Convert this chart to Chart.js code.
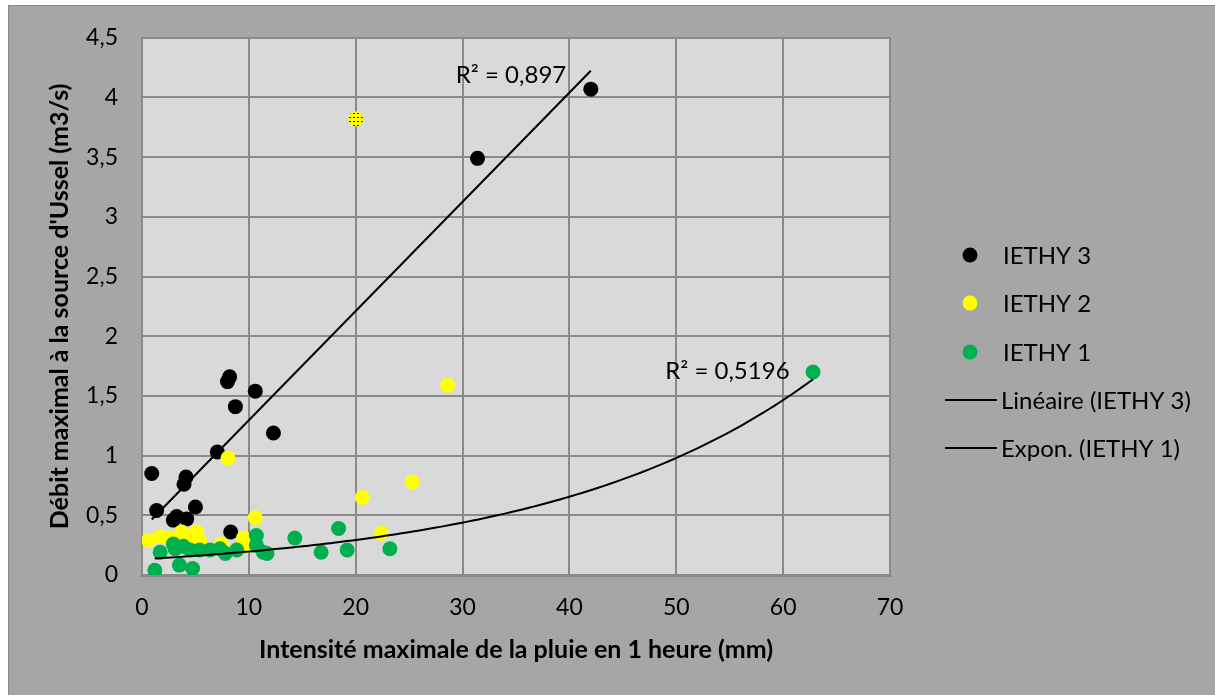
<!DOCTYPE html>
<html>
<head>
<meta charset="utf-8">
<script src="https://cdn.jsdelivr.net/npm/chart.js@4.4.1/dist/chart.umd.min.js"></script>
<style>
html,body{margin:0;padding:0;background:#fff;}
canvas{display:block;}
</style>
</head>
<body>
<canvas id="c" width="1215" height="695"></canvas>
<script>
// ---- Data ----
const ieth3X = [0.91, 1.37, 2.93, 3.25, 4.18, 3.93, 4.12, 5.0, 7.05, 8.0, 8.2, 8.74, 8.3, 10.6, 12.3, 31.4, 42.0];
const ieth3Y = [0.85, 0.54, 0.46, 0.49, 0.47, 0.76, 0.82, 0.57, 1.03, 1.62, 1.66, 1.41, 0.36, 1.54, 1.19, 3.49, 4.07];

const ieth2X = [0.6, 1.7, 2.5, 3.7, 4.3, 5.1, 5.4, 7.45, 8.05, 9.5, 9.8, 10.6, 20.0, 20.6, 22.4, 25.3, 28.6];
const ieth2Y = [0.29, 0.32, 0.31, 0.36, 0.30, 0.36, 0.29, 0.26, 0.98, 0.31, 0.25, 0.48, 3.82, 0.65, 0.35, 0.78, 1.59];
const ieth2Hatched = [20.0]; // x of the patterned point

const ieth1X = [1.2, 3.5, 4.74, 1.7, 2.93, 3.1, 3.87, 4.5, 5.4, 6.37, 7.3, 7.8, 8.87, 10.7, 10.7, 11.35, 11.7, 14.3, 16.76, 18.4, 19.2, 23.2, 62.8];
const ieth1Y = [0.04, 0.083, 0.055, 0.19, 0.26, 0.22, 0.24, 0.21, 0.21, 0.21, 0.22, 0.18, 0.21, 0.33, 0.25, 0.19, 0.18, 0.31, 0.19, 0.39, 0.21, 0.22, 1.70];

const xTicks = [0, 10, 20, 30, 40, 50, 60, 70];
const yTicks = [0, 0.5, 1, 1.5, 2, 2.5, 3, 3.5, 4, 4.5];

const seriesNames = ['IETHY 3', 'IETHY 2', 'IETHY 1', 'Linéaire (IETHY 3)', 'Expon. (IETHY 1)'];
const seriesColors = ['#000000', '#ffff00', '#00b050'];
const r2Labels = ['R² = 0,897', 'R² = 0,5196'];
const xTitle = 'Intensité maximale de la pluie en 1 heure (mm)';
const yTitle = "Débit maximal à la source d'Ussel (m3/s)";

// ---- Trend fits computed from the data (least squares, as in the spreadsheet) ----
function linFit(xs, ys) {
  const n = xs.length;
  const mx = xs.reduce((a, b) => a + b, 0) / n;
  const my = ys.reduce((a, b) => a + b, 0) / n;
  let sxy = 0, sxx = 0;
  for (let i = 0; i < n; i++) { sxy += (xs[i] - mx) * (ys[i] - my); sxx += (xs[i] - mx) ** 2; }
  const b = sxy / sxx;
  return { b, a: my - b * mx };
}
const lin = linFit(ieth3X, ieth3Y);
const expLin = linFit(ieth1X, ieth1Y.map(v => Math.log(v)));
const expA = Math.exp(expLin.a), expB = expLin.b;

const x3min = Math.min(...ieth3X), x3max = Math.max(...ieth3X);
const linPts = [x3min, x3max].map(x => ({ x, y: lin.a + lin.b * x }));

const x1min = Math.min(...ieth1X), x1max = Math.max(...ieth1X);
const expPts = [];
for (let i = 0; i <= 120; i++) {
  const x = x1min + (x1max - x1min) * i / 120;
  expPts.push({ x, y: expA * Math.exp(expB * x) });
}

const zip = (xs, ys) => xs.map((x, i) => ({ x, y: ys[i] }));

// hatched pattern for the special yellow point
const pc = document.createElement('canvas');
pc.width = 4; pc.height = 4;
const pctx = pc.getContext('2d');
pctx.fillStyle = '#ffff00'; pctx.fillRect(0, 0, 4, 4);
pctx.fillStyle = '#222'; pctx.fillRect(1, 1, 2, 1);
const hatch = pctx.createPattern(pc, 'repeat');
const ieth2Colors = ieth2X.map(x => ieth2Hatched.includes(x) ? hatch : seriesColors[1]);

const FONT = 'Lato, "Open Sans", sans-serif';
const PLOT = { left: 142, top: 35, right: 890, bottom: 575 };
const W = 1215, H = 695;

const bgPlugin = {
  id: 'bg',
  beforeDraw(chart) {
    const ctx = chart.ctx;
    ctx.save();
    ctx.fillStyle = '#ffffff';
    ctx.fillRect(0, 0, W, H);
    ctx.fillStyle = '#a6a6a6';
    ctx.fillRect(8, 5, W - 8, H - 5);
    ctx.strokeStyle = '#8a8a8a';
    ctx.lineWidth = 1;
    ctx.strokeRect(8.5, 5.5, W, H);
    const a = chart.chartArea;
    ctx.fillStyle = '#d9d9d9';
    ctx.fillRect(a.left, a.top, a.right - a.left, a.bottom - a.top);
    ctx.restore();
  }
};

const legendPlugin = {
  id: 'customLegend',
  afterDraw(chart) {
    const ctx = chart.ctx;
    ctx.save();
    // y axis title (rotated), centred on the plot area
    const a = chart.chartArea;
    ctx.save();
    ctx.translate(60, (a.top + a.bottom) / 2);
    ctx.rotate(-Math.PI / 2);
    ctx.font = 'bold 25px ' + FONT;
    ctx.textAlign = 'center';
    ctx.textBaseline = 'middle';
    ctx.fillStyle = '#000';
    ctx.fillText(yTitle, 0, 0);
    ctx.restore();

    ctx.font = '24px ' + FONT;
    ctx.textBaseline = 'middle';
    ctx.fillStyle = '#000';
    const ys = [255, 303, 352, 400, 448];
    for (let i = 0; i < 3; i++) {
      ctx.beginPath();
      ctx.arc(970, ys[i], 7.5, 0, Math.PI * 2);
      ctx.fillStyle = seriesColors[i];
      ctx.fill();
      ctx.fillStyle = '#000';
      ctx.fillText(seriesNames[i], 1003, ys[i] + 1);
    }
    for (let i = 3; i < 5; i++) {
      ctx.beginPath();
      ctx.moveTo(945, ys[i]); ctx.lineTo(997, ys[i]);
      ctx.strokeStyle = '#000'; ctx.lineWidth = 2; ctx.stroke();
      ctx.fillText(seriesNames[i], 1001, ys[i] + 1);
    }
    // R² labels anchored in data coordinates
    const sx = chart.scales.x, sy = chart.scales.y;
    ctx.textAlign = 'right';
    ctx.fillText(r2Labels[0], sx.getPixelForValue(39.7), sy.getPixelForValue(4.19));
    ctx.fillText(r2Labels[1], sx.getPixelForValue(60.6), sy.getPixelForValue(1.71));
    ctx.restore();
  }
};

const gridColor = '#8a8a8a';

new Chart(document.getElementById('c'), {
  type: 'scatter',
  data: {
    datasets: [
      { label: seriesNames[3], type: 'line', data: linPts, borderColor: '#000', borderWidth: 2, pointRadius: 0, fill: false, tension: 0, order: 0 },
      { label: seriesNames[4], type: 'line', data: expPts, borderColor: '#000', borderWidth: 2, pointRadius: 0, fill: false, tension: 0, order: 0 },
      { label: seriesNames[2], data: zip(ieth1X, ieth1Y), backgroundColor: seriesColors[2], borderWidth: 0, pointRadius: 7.5, order: 1 },
      { label: seriesNames[1], data: zip(ieth2X, ieth2Y), backgroundColor: ieth2Colors, borderWidth: 0, pointRadius: 7.5, order: 2 },
      { label: seriesNames[0], data: zip(ieth3X, ieth3Y), backgroundColor: seriesColors[0], borderWidth: 0, pointRadius: 7.5, order: 3 }
    ]
  },
  options: {
    responsive: false,
    devicePixelRatio: 1,
    animation: false,
    layout: { padding: { left: 0, top: PLOT.top, right: W - PLOT.right, bottom: 0 } },
    plugins: { legend: { display: false }, tooltip: { enabled: false } },
    scales: {
      x: {
        type: 'linear', min: 0, max: 70,
        afterBuildTicks: s => { s.ticks = xTicks.map(v => ({ value: v })); },
        afterFit: s => { s.height = H - PLOT.bottom; },
        grid: { color: gridColor, lineWidth: 2, drawTicks: false },
        border: { color: gridColor, width: 3 },
        ticks: { color: '#000', font: { family: FONT, size: 23 }, padding: 19, maxRotation: 0 },
        title: { display: true, text: xTitle, color: '#000', font: { family: FONT, size: 25, weight: 'bold' }, padding: { top: 0, bottom: 30 } }
      },
      y: {
        type: 'linear', min: 0, max: 4.5,
        afterBuildTicks: s => { s.ticks = yTicks.map(v => ({ value: v })); },
        afterFit: s => { s.width = PLOT.left; },
        grid: { color: gridColor, lineWidth: 2, drawTicks: false },
        border: { color: gridColor, width: 2 },
        ticks: { color: '#000', font: { family: FONT, size: 23 }, padding: 24, callback: v => String(v).replace('.', ',') },
        title: { display: false }
      }
    }
  },
  plugins: [bgPlugin, legendPlugin]
});
</script>
</body>
</html>
